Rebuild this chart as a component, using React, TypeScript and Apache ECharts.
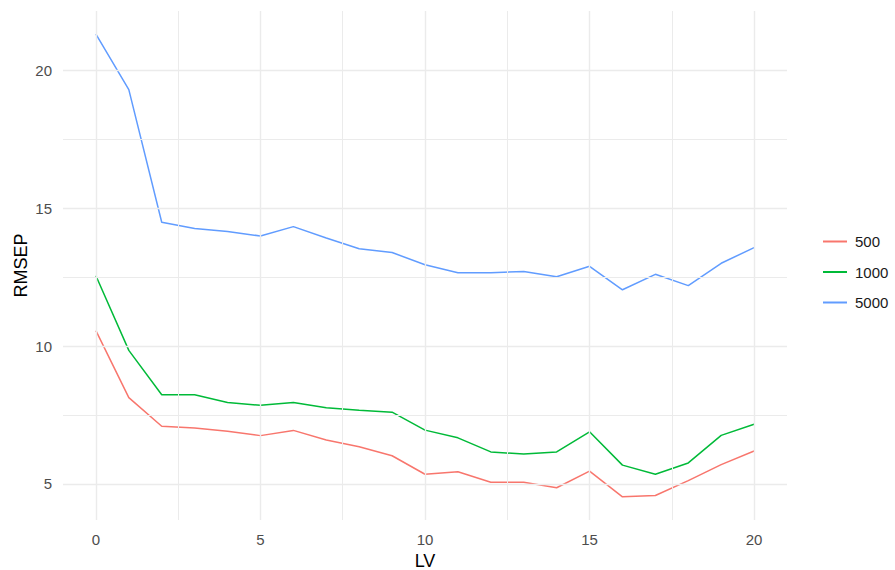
import React, { useEffect, useRef } from "react";
import * as echarts from "echarts";

const lv = [0, 1, 2, 3, 4, 5, 6, 7, 8, 9, 10, 11, 12, 13, 14, 15, 16, 17, 18, 19, 20];
const rmsep500 = [10.56, 8.13, 7.09, 7.03, 6.91, 6.75, 6.94, 6.59, 6.35, 6.02, 5.35, 5.44, 5.06, 5.06, 4.86, 5.46, 4.53, 4.58, 5.12, 5.70, 6.19];
const rmsep1000 = [12.55, 9.84, 8.23, 8.23, 7.95, 7.85, 7.95, 7.76, 7.67, 7.60, 6.95, 6.67, 6.16, 6.08, 6.16, 6.89, 5.68, 5.35, 5.76, 6.76, 7.16];
const rmsep5000 = [21.31, 19.30, 14.49, 14.26, 14.15, 13.99, 14.33, 13.92, 13.53, 13.39, 12.95, 12.66, 12.66, 12.70, 12.51, 12.89, 12.04, 12.60, 12.19, 13.0, 13.57];
const seriesNames = ["500", "1000", "5000"];
const seriesColors = ["#F8766D", "#00BA38", "#619CFF"];
const xTicks = [0, 5, 10, 15, 20];
const xMinor = [2.5, 7.5, 12.5, 17.5];
const yTicks = [5, 10, 15, 20];
const yMinor = [7.5, 12.5, 17.5];

export default function App() {
  const ref = useRef<HTMLDivElement>(null);
  useEffect(() => {
    if (!ref.current) return;
    const chart = echarts.init(ref.current, null, { renderer: "svg" });
    const values = [rmsep500, rmsep1000, rmsep5000];
    const grid = "#EBEBEB";
    const gridLines = [
      ...xTicks.map((v) => ({ xAxis: v, lineStyle: { width: 1.4 } })),
      ...xMinor.map((v) => ({ xAxis: v, lineStyle: { width: 1.0 } })),
      ...yTicks.map((v) => ({ yAxis: v, lineStyle: { width: 1.4 } })),
      ...yMinor.map((v) => ({ yAxis: v, lineStyle: { width: 1.0 } })),
    ];
    chart.setOption({
      animation: false,
      backgroundColor: "#ffffff",
      textStyle: { fontFamily: "Liberation Sans, Arial, sans-serif" },
      grid: { left: 63, right: 108, top: 11, bottom: 50, containLabel: false, outerBoundsMode: "none" },
      xAxis: {
        type: "value",
        min: -1,
        max: 21,
        name: "LV",
        nameLocation: "middle",
        nameGap: 32,
        nameMoveOverlap: false,
        nameTextStyle: { color: "#000000", fontSize: 18 },
        axisLine: { show: false },
        axisTick: { show: false, customValues: xTicks },
        splitLine: { show: false },
        axisLabel: { customValues: xTicks, color: "#4D4D4D", fontSize: 15, margin: 12 },
      },
      yAxis: {
        type: "value",
        min: 3.69,
        max: 22.15,
        name: "RMSEP",
        nameLocation: "middle",
        nameGap: 33,
        nameMoveOverlap: false,
        nameTextStyle: { color: "#000000", fontSize: 18 },
        axisLine: { show: false },
        axisTick: { show: false, customValues: yTicks },
        splitLine: { show: false },
        axisLabel: { customValues: yTicks, color: "#4D4D4D", fontSize: 15, margin: 11 },
      },
      legend: {
        data: seriesNames.map((n) => ({ name: n, icon: "rect" })),
        orient: "vertical",
        left: 818,
        top: 229,
        itemWidth: 24,
        itemHeight: 2,
        itemGap: 15.5,
        textStyle: { color: "#1A1A1A", fontSize: 15, lineHeight: 14, padding: [0, 0, 0, 3] },
      },
      series: [
        {
          type: "line",
          name: "grid",
          data: [],
          z: 1,
          silent: true,
          markLine: {
            silent: true,
            symbol: ["none", "none"],
            label: { show: false },
            lineStyle: { color: grid, type: "solid" },
            emphasis: { disabled: true },
            data: gridLines,
          },
        },
        ...seriesNames.map((name, i) => ({
          type: "line",
          name,
          z: 3,
          data: lv.map((x, j) => [x, values[i][j]]),
          symbol: "none",
          color: seriesColors[i],
          lineStyle: { color: seriesColors[i], width: 1.5 },
        })),
      ],
    });
    return () => chart.dispose();
  }, []);
  return (
    <div
      ref={ref}
      style={{ position: "absolute", left: 0, top: 0, width: 895, height: 570 }}
    />
  );
}
